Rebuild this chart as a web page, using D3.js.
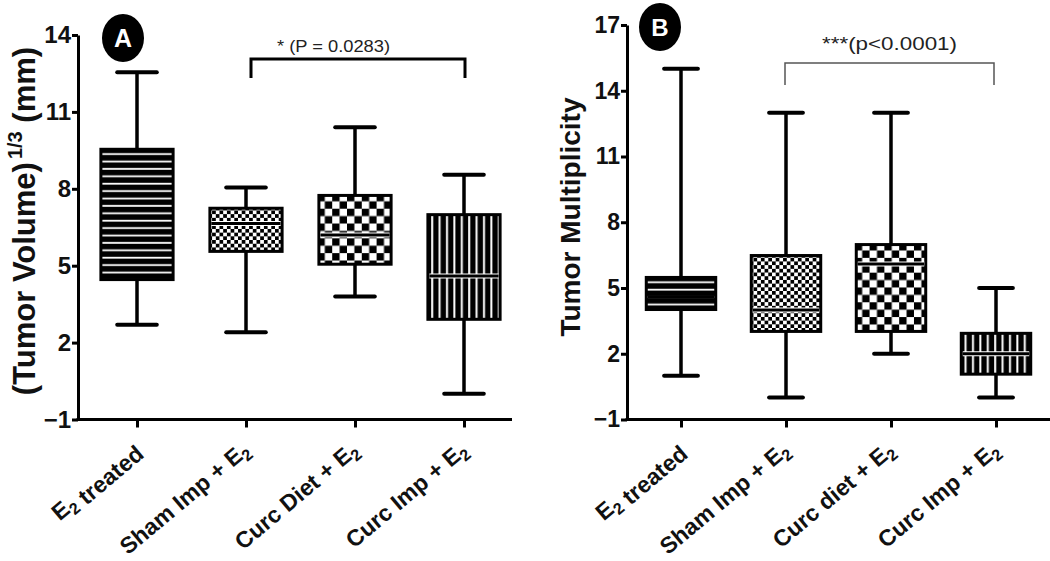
<!DOCTYPE html>
<html>
<head>
<meta charset="utf-8">
<script src="https://cdn.jsdelivr.net/npm/d3@7"></script>
<style>
body{margin:0;background:#fff}
svg{display:block}
text{font-family:"Liberation Sans", Arial, sans-serif}
</style>
</head>
<body>
<svg id="chart" width="1050" height="561"></svg>
<script>

// panel A : tumor volume
let groups_A = ["E2 treated", "Sham Imp + E2", "Curc Diet + E2", "Curc Imp + E2"]
let min_A = [2.7, 2.4, 3.8, 0.0]
let q1_A = [4.4, 5.5, 5.0, 2.85]
let med_A = [7.5, 6.65, 6.2, 4.6]
let q3_A = [9.6, 7.3, 7.8, 7.05]
let max_A = [12.55, 8.05, 10.4, 8.55]
let ticks_A = [-1, 2, 5, 8, 11, 14]

// panel B : tumor multiplicity
let groups_B = ["E2 treated", "Sham Imp + E2", "Curc diet + E2", "Curc Imp + E2"]
let min_B = [1, 0, 2, 0]
let q1_B = [3.95, 2.95, 2.95, 1]
let med_B = [4.6, 4.0, 6.1, 2]
let q3_B = [5.55, 6.55, 7.05, 3]
let max_B = [15, 13, 13, 5]
let ticks_B = [-1, 2, 5, 8, 11, 14, 17]

let fills = ['hlines', 'fine_checker', 'checker', 'vlines']

let svg = d3.select('#chart')
let defs = svg.append('defs')

svg.append('rect').attr('width', 1050).attr('height', 561).attr('fill', 'white')


function make_pattern(id, type, bx, by){

let pat = defs.append('pattern')
.attr('id', id)
.attr('patternUnits', 'userSpaceOnUse')
.attr('x', bx)
.attr('y', by)

if(type == 'hlines'){
pat.attr('width', 10).attr('height', 7.4)
pat.append('rect').attr('width', 10).attr('height', 7.4).attr('fill', 'black')
pat.append('rect').attr('y', 5.4).attr('width', 10).attr('height', 1.8).attr('fill', 'white')
}
else if(type == 'vlines'){
pat.attr('width', 7.4).attr('height', 10)
pat.append('rect').attr('width', 7.4).attr('height', 10).attr('fill', 'black')
pat.append('rect').attr('x', 4.8).attr('width', 2).attr('height', 10).attr('fill', 'white')
}
else{
let c = type == 'checker' ? 7.4 : 3.7
pat.attr('width', 2*c).attr('height', 2*c)
pat.append('rect').attr('width', 2*c).attr('height', 2*c).attr('fill', 'white')
pat.append('rect').attr('width', c).attr('height', c).attr('fill', 'black')
pat.append('rect').attr('x', c).attr('y', c).attr('width', c).attr('height', c).attr('fill', 'black')
}

}


function add_label(sel, label, size){
// "E2" gets a subscript 2
let parts = label.split('E2')
parts.forEach((p, i) => {
  if(p) sel.append('tspan').text(p)
  if(i < parts.length - 1){
    sel.append('tspan').text('E')
    sel.append('tspan').attr('dy', 5).style('font-size', (size*0.7) + 'px').text('2')
    if(parts[i+1]) sel.append('tspan').attr('dy', -5).text('')
  }
})
}


function draw_panel(p){

let x = d3.scalePoint()
.domain(p.groups)
.range(p.x_range)
.padding(0.5)

let y = d3.scaleLinear()
.domain([p.ticks[0], p.ticks[p.ticks.length - 1]])
.range(p.y_range)

let step = x.step()
let bw = step * 0.69
let cw = step * p.cap_ratio

let g = svg.append('g')

// y axis
let yaxis = g.append('g')
.attr('transform', `translate(${p.axis_x},0)`)
.call(d3.axisLeft(y).tickValues(p.ticks).tickSize(6).tickSizeOuter(0).tickPadding(1))

yaxis.select('.domain').attr('stroke-width', 3).attr('stroke', 'black')
yaxis.selectAll('.tick line').attr('stroke-width', 3).attr('stroke', 'black')
yaxis.selectAll('.tick text')
.style('font-size', p.tick_size + 'px')
.style('font-weight', 'bold')
.attr('fill', '#111')

// x axis
let xaxis = g.append('g')
.attr('transform', `translate(0,${p.y_range[0]})`)
.call(d3.axisBottom(x).tickSize(8).tickFormat(''))

xaxis.select('.domain').remove()
xaxis.selectAll('.tick line').attr('stroke-width', 3).attr('stroke', 'black')

g.append('line')
.attr('x1', p.axis_x - 1.5)
.attr('x2', p.axis_end)
.attr('y1', p.y_range[0])
.attr('y2', p.y_range[0])
.attr('stroke', 'black')
.attr('stroke-width', 3)

// x labels
p.groups.forEach((lab) => {
let t = g.append('text')
.attr('transform', `translate(${x(lab) + 5},${p.y_range[0] + 33}) rotate(-40)`)
.attr('text-anchor', 'end')
.style('font-size', '23px')
.style('font-weight', 'bold')
.attr('fill', '#111')
add_label(t, lab, 23)
})

// boxes
p.groups.forEach((lab, i) => {

let cx = x(lab)
let y_top = y(p.q3[i])
let y_bot = y(p.q1[i])
let bx = cx - bw/2

// whiskers
g.append('line')
.attr('x1', cx).attr('x2', cx)
.attr('y1', y(p.max[i])).attr('y2', y(p.min[i]))
.attr('stroke', 'black')
.attr('stroke-width', 3.5)

let pid = 'pat_' + p.name + '_' + i
make_pattern(pid, fills[i], bx, y_top)

g.append('rect')
.attr('x', bx + 1.5)
.attr('y', y_top + 1.5)
.attr('width', bw - 3)
.attr('height', y_bot - y_top - 3)
.attr('fill', `url(#${pid})`)
.attr('stroke', 'black')
.attr('stroke-width', 3)

// median
if(fills[i] != 'hlines'){
g.append('line')
.attr('x1', bx + 3).attr('x2', bx + bw - 3)
.attr('y1', y(p.med[i])).attr('y2', y(p.med[i]))
.attr('stroke', 'white')
.attr('stroke-width', 5)
}

g.append('line')
.attr('x1', bx + 3).attr('x2', bx + bw - 3)
.attr('y1', y(p.med[i])).attr('y2', y(p.med[i]))
.attr('stroke', 'black')
.attr('stroke-width', 3)

// caps
;[p.max[i], p.min[i]].forEach((v) => {
g.append('line')
.attr('x1', cx - cw/2 + 2).attr('x2', cx + cw/2 - 2)
.attr('y1', y(v)).attr('y2', y(v))
.attr('stroke', 'black')
.attr('stroke-width', 4)
.attr('stroke-linecap', 'round')
})

})

// y title
let yt = g.append('text')
.attr('transform', `translate(${p.title_x},${p.title_y}) rotate(-90)`)
.attr('text-anchor', 'middle')
.style('font-size', p.title_size + 'px')
.style('font-weight', 'bold')
.attr('fill', '#111')

p.title.forEach((part) => {
let ts = yt.append('tspan').text(part.text)
if(part.sup){
ts.attr('dy', -13).attr('dx', 3).style('font-size', '20px')
}
if(part.after_sup){
ts.attr('dy', 13)
}
})

// significance bracket
let b = p.bracket
let bx1 = x(p.groups[1]) + b.dx1
let bx2 = x(p.groups[3]) + b.dx2

g.append('path')
.attr('d', `M${bx1},${b.y2} V${b.y1} H${bx2} V${b.y2}`)
.attr('fill', 'none')
.attr('stroke', b.color)
.attr('stroke-width', b.width)

g.append('text')
.attr('x', x(p.groups[1]) + b.text_dx)
.attr('y', b.text_y)
.attr('textLength', b.text_len)
.attr('lengthAdjust', 'spacingAndGlyphs')
.style('font-size', b.font + 'px')
.attr('fill', '#222')
.text(b.text)

// panel letter
g.append('ellipse')
.attr('cx', p.badge[0]).attr('cy', p.badge[1])
.attr('rx', 21).attr('ry', 24)
.attr('fill', 'black')

g.append('text')
.attr('x', p.badge[0]).attr('y', p.badge[1])
.attr('dy', '0.36em')
.attr('text-anchor', 'middle')
.style('font-size', p.badge_size + 'px')
.style('font-weight', 'bold')
.attr('fill', 'white')
.text(p.name)

}


draw_panel({
name: 'A',
groups: groups_A, min: min_A, q1: q1_A, med: med_A, q3: q3_A, max: max_A, ticks: ticks_A,
x_range: [82.5, 518.5], y_range: [419.5, 35],
axis_x: 78, axis_end: 512, cap_ratio: 0.4, tick_size: 24,
title: [{text: '(Tumor Volume)'}, {text: '1/3', sup: true}, {text: ' (mm)', after_sup: true}],
title_x: 35, title_y: 221, title_size: 31,
bracket: {dx1: 5, dx2: 1, y1: 59, y2: 78, color: 'black', width: 3,
  text: '* (P = 0.0283)', text_dx: 31, text_y: 52, text_len: 113, font: 16},
badge: [123, 38], badge_size: 25
})

draw_panel({
name: 'B',
groups: groups_B, min: min_B, q1: q1_B, med: med_B, q3: q3_B, max: max_B, ticks: ticks_B,
x_range: [628.5, 1048.5], y_range: [419.5, 25],
axis_x: 627, axis_end: 1050, cap_ratio: 0.36, tick_size: 23,
title: [{text: 'Tumor Multiplicity'}],
title_x: 580, title_y: 217, title_size: 28,
bracket: {dx1: -1, dx2: -2, y1: 63, y2: 85, color: '#555', width: 1.5,
  text: '***(p<0.0001)', text_dx: 36, text_y: 50, text_len: 135, font: 19},
badge: [660, 27], badge_size: 24
})

</script>
</body>
</html>
